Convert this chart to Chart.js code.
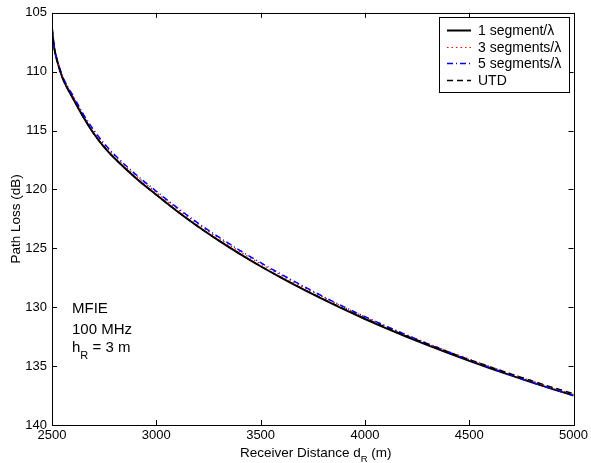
<!DOCTYPE html>
<html>
<head>
<meta charset="utf-8">
<script src="https://cdn.jsdelivr.net/npm/chart.js@4.4.0/dist/chart.umd.min.js"></script>
<style>
  body { margin: 0; background: #fff; }
  canvas { display: block; }
</style>
</head>
<body>
<canvas id="pathLoss" width="591" height="463"></canvas>
<script>
// receiver distance (m)
const distances = [2500, 2510, 2525, 2550, 2575, 2600, 2650, 2700, 2750, 2800,
  2900, 3000, 3100, 3200, 3300, 3400, 3500, 3600, 3700, 3800, 3900,
  4000, 4100, 4200, 4300, 4400, 4500, 4600, 4700, 4800, 4900, 5000];

// path loss (dB)
const seg1 = [106.3, 107.9, 109.1, 110.5, 111.45, 112.25, 113.85, 115.25, 116.4, 117.35,
  119.0, 120.45, 121.85, 123.15, 124.35, 125.47, 126.52, 127.51, 128.45, 129.34, 130.19,
  131.0, 131.77, 132.51, 133.22, 133.9, 134.55, 135.18, 135.79, 136.38, 136.95, 137.5];
const seg3 = [106.3, 107.87, 109.03, 110.4, 111.31, 112.07, 113.67, 115.05, 116.2, 117.15,
  118.8, 120.25, 121.65, 122.95, 124.15, 125.27, 126.32, 127.31, 128.25, 129.14, 130.01,
  130.82, 131.6, 132.35, 133.06, 133.75, 134.4, 135.03, 135.65, 136.25, 136.83, 137.38];
const seg5 = [106.3, 107.85, 109.0, 110.35, 111.25, 112.0, 113.6, 114.95, 116.1, 117.05,
  118.7, 120.15, 121.55, 122.85, 124.05, 125.17, 126.22, 127.21, 128.17, 129.09, 129.97,
  130.8, 131.59, 132.36, 133.1, 133.8, 134.47, 135.13, 135.76, 136.38, 136.95, 137.5];
const utd = [106.3, 107.9, 109.1, 110.5, 111.45, 112.25, 113.85, 115.25, 116.4, 117.35,
  119.0, 120.45, 121.85, 123.15, 124.35, 125.47, 126.52, 127.49, 128.42, 129.3, 130.14,
  130.94, 131.7, 132.43, 133.13, 133.8, 134.45, 135.07, 135.67, 136.25, 136.81, 137.35];

const xTicks = [2500, 3000, 3500, 4000, 4500, 5000];
const yTicks = [105, 110, 115, 120, 125, 130, 135, 140];

const legendNames = ['1 segment/\u03bb', '3 segments/\u03bb', '5 segments/\u03bb', 'UTD'];

const FONT = '"Liberation Sans", Arial, Helvetica, sans-serif';

function toPoints(ys) {
  return distances.map((d, i) => ({ x: d, y: ys[i] }));
}

// frame, inward ticks, titles, note and legend, drawn like the original figure
const figurePlugin = {
  id: 'figure',
  afterDraw(chart) {
    const ctx = chart.ctx;
    const a = chart.chartArea;
    const xs = chart.scales.x;
    const ys = chart.scales.y;
    ctx.save();
    ctx.strokeStyle = '#000';
    ctx.lineWidth = 1;
    ctx.setLineDash([]);
    ctx.strokeRect(Math.round(a.left) + 0.5, Math.round(a.top) + 0.5,
      Math.round(a.right - a.left), Math.round(a.bottom - a.top));

    ctx.beginPath();
    xTicks.forEach(v => {
      const px = Math.round(xs.getPixelForValue(v)) + 0.5;
      ctx.moveTo(px, a.bottom); ctx.lineTo(px, a.bottom - 5);
      ctx.moveTo(px, a.top); ctx.lineTo(px, a.top + 5);
    });
    yTicks.forEach(v => {
      const py = Math.round(ys.getPixelForValue(v)) + 0.5;
      ctx.moveTo(a.left, py); ctx.lineTo(a.left + 5, py);
      ctx.moveTo(a.right, py); ctx.lineTo(a.right - 5, py);
    });
    ctx.stroke();

    ctx.fillStyle = '#000';
    ctx.textBaseline = 'alphabetic';
    // x title with subscript
    const t1 = 'Receiver Distance d';
    const t2 = ' (m)';
    ctx.font = '13.5px ' + FONT;
    const w1 = ctx.measureText(t1).width;
    const w3 = ctx.measureText(t2).width;
    ctx.font = '9.5px ' + FONT;
    const w2 = ctx.measureText('R').width;
    const x0 = (a.left + a.right) / 2 + 3 - (w1 + w2 + w3) / 2;
    ctx.textAlign = 'left';
    ctx.font = '13.5px ' + FONT;
    ctx.fillText(t1, x0, 457);
    ctx.font = '9.5px ' + FONT;
    ctx.fillText('R', x0 + w1, 461.5);
    ctx.font = '13.5px ' + FONT;
    ctx.fillText(t2, x0 + w1 + w2, 457);

    // y title
    ctx.save();
    ctx.translate(19.5, (a.top + a.bottom) / 2);
    ctx.rotate(-Math.PI / 2);
    ctx.textAlign = 'center';
    ctx.font = '13.5px ' + FONT;
    ctx.fillText('Path Loss (dB)', 0, 0);
    ctx.restore();

    // note
    ctx.textAlign = 'left';
    ctx.font = '15px ' + FONT;
    ctx.fillText('MFIE', 72, 313);
    ctx.fillText('100 MHz', 72, 334);
    ctx.fillText('h', 72, 352);
    const hw = ctx.measureText('h').width;
    ctx.font = '11px ' + FONT;
    ctx.fillText('R', 72 + hw, 359);
    const rw = ctx.measureText('R').width;
    ctx.font = '15px ' + FONT;
    ctx.fillText(' = 3 m', 72 + hw + rw, 352);

    // legend
    const lx = 439.5, ly = 17.5, lw = 130, lh = 75;
    ctx.fillStyle = '#fff';
    ctx.fillRect(lx, ly, lw, lh);
    ctx.strokeStyle = '#000';
    ctx.lineWidth = 1;
    ctx.strokeRect(lx, ly, lw, lh);
    const rows = [30, 47, 63, 80];
    chart.data.datasets.forEach((ds, i) => {
      const yy = rows[i] + 0.5;
      ctx.beginPath();
      ctx.strokeStyle = ds.borderColor;
      ctx.lineWidth = ds.borderWidth;
      ctx.setLineDash(ds.borderDash || []);
      ctx.moveTo(447, yy);
      ctx.lineTo(471, yy);
      ctx.stroke();
      ctx.setLineDash([]);
      ctx.fillStyle = '#000';
      ctx.font = '14px ' + FONT;
      ctx.textBaseline = 'middle';
      ctx.fillText(legendNames[i], 478, rows[i] + 1);
    });
    ctx.restore();
  }
};

const chartData = {
  datasets: [
    {
      label: legendNames[0],
      data: toPoints(seg1),
      borderColor: '#000000',
      borderWidth: 2,
      order: 3
    },
    {
      label: legendNames[1],
      data: toPoints(seg3),
      borderColor: '#ff0000',
      borderWidth: 1.2,
      borderDash: [1.5, 3],
      order: 2
    },
    {
      label: legendNames[2],
      data: toPoints(seg5),
      borderColor: '#0000ff',
      borderWidth: 1.5,
      borderDash: [6, 3, 1, 3],
      order: 1
    },
    {
      label: legendNames[3],
      data: toPoints(utd),
      borderColor: '#000000',
      borderWidth: 1.5,
      borderDash: [6, 4],
      order: 0
    }
  ]
};

const chartConfig = {
  type: 'line',
  data: chartData,
  options: {
    responsive: false,
    animation: false,
    devicePixelRatio: 1,
    layout: { padding: { left: 0, right: 16, top: 12, bottom: 0 } },
    elements: {
      point: { radius: 0 },
      line: { cubicInterpolationMode: 'monotone', fill: false }
    },
    plugins: {
      legend: { display: false },
      tooltip: { enabled: false }
    },
    scales: {
      x: {
        type: 'linear',
        min: 2500,
        max: 5000,
        afterBuildTicks: s => { s.ticks = xTicks.map(v => ({ value: v })); },
        afterFit: s => { s.height = 38; },
        grid: { display: false, drawTicks: false, tickLength: 0 },
        border: { display: false },
        ticks: {
          padding: 3,
          color: '#000',
          maxRotation: 0,
          callback: v => String(v),
          font: { family: FONT, size: 13 }
        }
      },
      y: {
        reverse: true,
        min: 105,
        max: 140,
        afterBuildTicks: s => { s.ticks = yTicks.map(v => ({ value: v })); },
        afterFit: s => { s.width = 52; },
        grid: { display: false, drawTicks: false, tickLength: 0 },
        border: { display: false },
        ticks: {
          padding: 5,
          color: '#000',
          callback: v => String(v),
          font: { family: FONT, size: 13 }
        }
      }
    }
  },
  plugins: [figurePlugin]
};

const ctx = document.getElementById('pathLoss').getContext('2d');
new Chart(ctx, chartConfig);
</script>
</body>
</html>
